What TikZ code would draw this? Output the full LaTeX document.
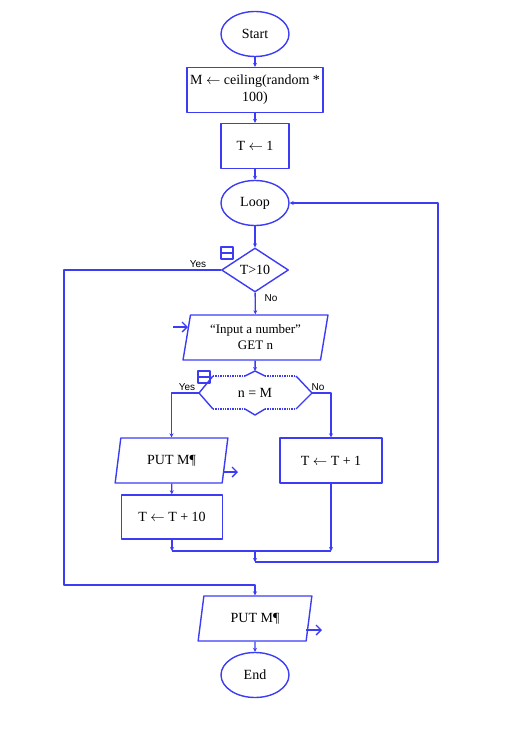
\documentclass[tikz,border=0pt]{standalone}
\usepackage{fontspec}
\setmainfont{Liberation Serif}
\newfontfamily\labelfont{Liberation Sans}
\usetikzlibrary{shapes.geometric,arrows.meta,positioning}
\definecolor{flowblue}{RGB}{60,60,245}

\begin{document}
\begin{tikzpicture}[x=1pt, y=-1pt, line width=1.4pt, line join=round,
    >={Stealth[length=4pt,width=4pt]},
    every node/.style={font=\fontsize{14}{17}\selectfont},
    terminal/.style={ellipse, draw=flowblue, minimum width=68pt, minimum height=45pt, inner sep=0pt},
    process/.style={rectangle, draw=flowblue, minimum height=45pt, align=center, inner sep=1pt},
    decision/.style={diamond, draw=flowblue, minimum width=67pt, minimum height=44pt, inner sep=0pt},
    io/.style={trapezium, trapezium left angle=80, trapezium right angle=100,
        trapezium stretches=true, draw=flowblue, minimum height=45pt, align=center},
    flow/.style={draw=flowblue, ->},
    wire/.style={draw=flowblue},
    ioarrow/.style={draw=flowblue, -{Straight Barb[length=5pt,width=10pt]}},
    branch/.style={font=\labelfont\fontsize{10}{10}\selectfont, inner sep=1pt},
    foldbox/.style={draw=flowblue, line width=1.4pt, minimum size=12pt, inner sep=0pt}]
    \useasboundingbox (0,0) rectangle (529,741);

    % blocks
    \node[terminal] (start) at (255,34) {Start};
    \node[process, minimum width=136pt, inner sep=0pt] (initM) at (255,90) {M $\leftarrow$ ceiling(random *\\100)};
    \node[process, minimum width=68pt] (initT) at (255,146) {T $\leftarrow$ 1};
    \node[terminal] (loop) at (255,203) {Loop};
    \node[decision] (test) at (255,270) {T>10};
    \node[io, minimum width=145pt, font=\fontsize{13}{16}\selectfont] (input) at (255.5,337.5) {``Input a number''\\GET n};
    \node (cmp) at (255,393) {n = M};
    \node[io, minimum width=113pt] (putA) at (171.5,460.5) {PUT M\P};
    \node[process, minimum width=102pt] (incOne) at (331,460.5) {T $\leftarrow$ T + 1};
    \node[process, minimum width=101pt, minimum height=44pt] (incTen) at (172,517) {T $\leftarrow$ T + 10};
    \node[io, minimum width=114pt] (putB) at (255,618.5) {PUT M\P};
    \node[terminal] (end) at (255,675) {End};

    % collapsed decision n = M
    \coordinate (cmpL) at (199,393);
    \coordinate (cmpR) at (312,393);
    \coordinate (cmpT) at (255,371);
    \coordinate (cmpB) at (255,415);
    \draw[wire] (213,376) -- (cmpL) -- (213,409);
    \draw[wire] (296,376) -- (cmpR) -- (296,409);
    \draw[wire] (245,376) -- (cmpT) -- (265,376);
    \draw[wire] (245,409) -- (cmpB) -- (265,409);
    \draw[wire, densely dotted] (213,376) -- (245,376) (265,376) -- (296,376);
    \draw[wire, densely dotted] (213,409) -- (245,409) (265,409) -- (296,409);

    % fold markers
    \node[foldbox] (foldA) at (227,253) {};
    \draw[flowblue] (foldA.west) -- (foldA.east);
    \node[foldbox] (foldB) at (204,377) {};
    \draw[flowblue] (foldB.west) -- (foldB.east);

    % main flow
    \draw[flow] (start) -- (initM);
    \draw[flow] (initM) -- (initT);
    \draw[flow] (initT) -- (loop);
    \draw[flow] (loop) -- (test);
    \draw[flow] (test) -- (input);
    \draw[flow] (input) -- (cmpT);
    \draw[flow] (cmpL) -| (putA.north);
    \draw[flow] (cmpR) -| (incOne.north);
    \draw[flow] (putA) -- (incTen);

    % joins and loop back
    \coordinate (joinL) at (172,551);
    \coordinate (joinR) at (331,551);
    \coordinate (joinM) at (255,551);
    \coordinate (back) at (255,562);
    \coordinate (backR) at (438,562);
    \draw[flow] (incTen) -- (joinL);
    \draw[flow] (incOne) -- (joinR);
    \draw[wire] (joinL) -- (joinR);
    \draw[flow] (joinM) -- (back);
    \draw[flow] (back) -- (backR) |- (loop.east);

    % exit branch
    \coordinate (exitL) at (64,270);
    \coordinate (exitB) at (64,585);
    \draw[flow] (test.west) -- (exitL) -- (exitB) -| (putB.north);
    \draw[flow] (putB) -- (end);

    % branch labels
    \node[branch] (yesA) at (198,264) {Yes};
    \node[branch] (noA) at (271,298) {No};
    \node[branch] (yesB) at (187,387) {Yes};
    \node[branch] (noB) at (318,387) {No};

    % io arrows
    \coordinate (inS) at (173,327);
    \coordinate (inE) at (188,327);
    \draw[ioarrow] (inS) -- (inE);
    \coordinate (outAS) at (223,472);
    \coordinate (outAE) at (238,472);
    \draw[ioarrow] (outAS) -- (outAE);
    \coordinate (outBS) at (306,630);
    \coordinate (outBE) at (322,630);
    \draw[ioarrow] (outBS) -- (outBE);
\end{tikzpicture}
\end{document}
